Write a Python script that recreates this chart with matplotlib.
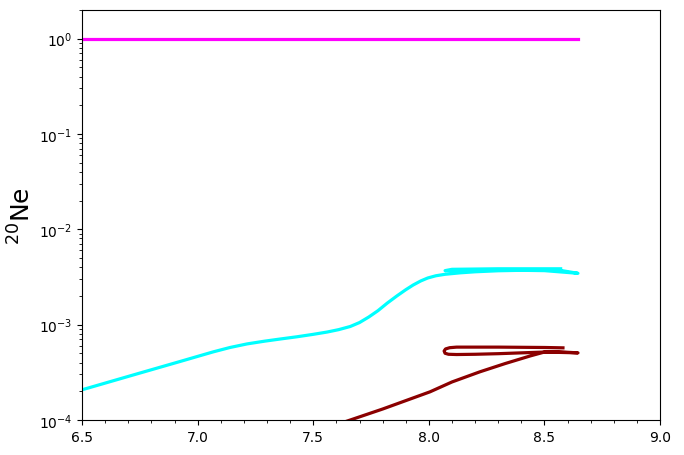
import numpy as np
import matplotlib
matplotlib.use("Agg")
import matplotlib.pyplot as plt
from matplotlib.ticker import MultipleLocator

# magenta track
mag_x = [6.5, 7.0, 7.5, 8.0, 8.5, 8.645]
mag_y = [0.99, 0.99, 0.99, 0.99, 0.99, 0.99]

# cyan track (phase 1 then return segment)
cyan_x = [6.5, 6.75, 6.924, 7.067, 7.14, 7.214, 7.29, 7.356, 7.43, 7.5, 7.56,
          7.61, 7.66, 7.7, 7.74, 7.78, 7.82, 7.862, 7.9, 7.932, 7.965, 7.995,
          8.03, 8.07, 8.135, 8.2, 8.3, 8.4, 8.5, 8.6, 8.645,
          8.57, 8.3, 8.07, 8.1, 8.3, 8.57]
cyan_y = [2.07e-4, 3.1e-4, 4.1e-4, 5.17e-4, 5.75e-4, 6.27e-4, 6.7e-4, 7.05e-4,
          7.45e-4, 7.9e-4, 8.35e-4, 8.85e-4, 9.55e-4, 1.05e-3, 1.2e-3, 1.4e-3,
          1.68e-3, 2.0e-3, 2.32e-3, 2.6e-3, 2.87e-3, 3.08e-3, 3.25e-3, 3.37e-3,
          3.49e-3, 3.58e-3, 3.67e-3, 3.71e-3, 3.68e-3, 3.52e-3, 3.45e-3,
          3.7e-3, 3.72e-3, 3.68e-3, 3.8e-3, 3.85e-3, 3.85e-3]

# dark red track (phase 1 then loop)
red_x = [7.6, 7.8, 8.005, 8.1, 8.22, 8.33, 8.44, 8.5, 8.55, 8.645,
         8.5, 8.4, 8.3, 8.2, 8.12, 8.085, 8.07, 8.066, 8.072, 8.09, 8.12,
         8.3, 8.5, 8.58]
red_y = [8.9e-5, 1.3e-4, 1.97e-4, 2.5e-4, 3.19e-4, 3.9e-4, 4.7e-4, 5.15e-4,
         5.2e-4, 5.05e-4,
         5.15e-4, 5.05e-4, 4.95e-4, 4.88e-4, 4.85e-4, 4.88e-4, 5.0e-4, 5.28e-4,
         5.55e-4, 5.72e-4, 5.8e-4, 5.8e-4, 5.75e-4, 5.7e-4]

fig = plt.figure(figsize=(6.84, 4.56), dpi=100)
ax = fig.add_axes([0.12, 0.077, 0.845, 0.899])
ax.plot(mag_x, mag_y, color="#ff00ff", lw=2.3)
ax.plot(cyan_x, cyan_y, color="#00ffff", lw=2.3)
ax.plot(red_x, red_y, color="#8b0000", lw=2.3)
ax.set_yscale("log")
ax.set_xlim(6.5, 9.0)
ax.set_ylim(1e-4, 2.0)
ax.xaxis.set_major_locator(MultipleLocator(0.5))
ax.xaxis.set_minor_locator(MultipleLocator(0.1))
ax.set_ylabel(r"$^{20}$Ne", fontsize=18, labelpad=2)
ax.tick_params(labelsize=10)
fig.savefig("out.png", dpi=100)
